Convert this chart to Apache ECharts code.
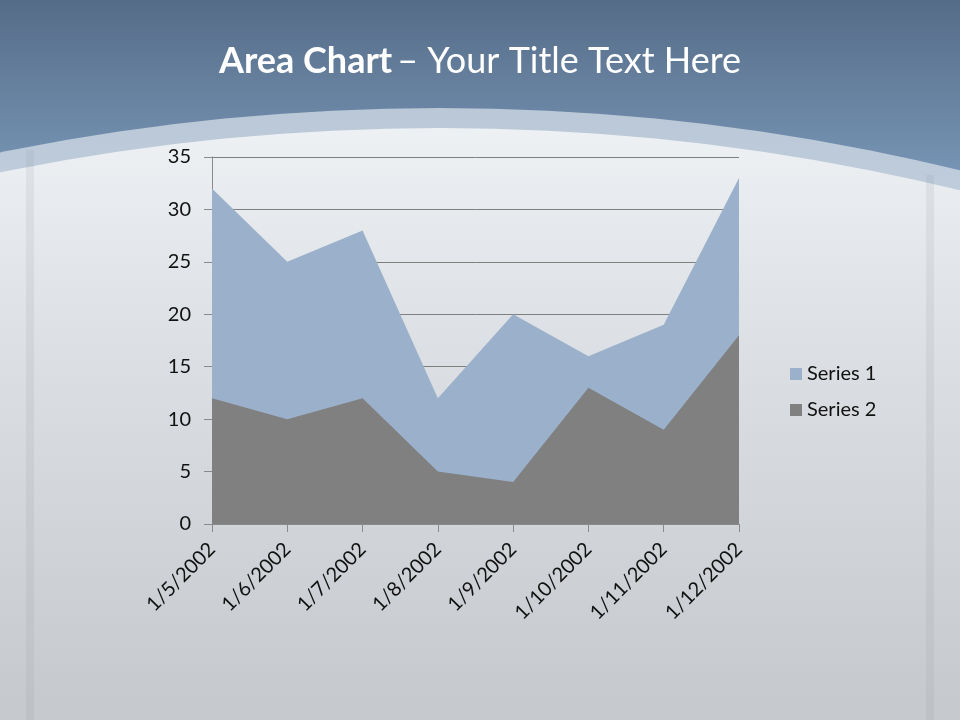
<!DOCTYPE html>
<html>
<head>
<meta charset="utf-8">
<style>
html,body{margin:0;padding:0;background:#c8ccd0;}
#chart{width:960px;height:720px;}
</style>
<script src="https://cdn.jsdelivr.net/npm/echarts@6/dist/echarts.min.js"></script>
</head>
<body>
<div id="chart"></div>
<script>
var categories = ['1/5/2002','1/6/2002','1/7/2002','1/8/2002','1/9/2002','1/10/2002','1/11/2002','1/12/2002'];
var series1 = [32, 25, 28, 12, 20, 16, 19, 33];
var series2 = [12, 10, 12, 5, 4, 13, 9, 18];
var yTicks = {min: 0, max: 35, interval: 5};

var chart = echarts.init(document.getElementById('chart'), null, {renderer: 'canvas'});
var font = 'Lato, "Open Sans", sans-serif';

chart.setOption({
  animation: false,
  graphic: [
    {type: 'rect', z: -10, silent: true, shape: {x: 0, y: 0, width: 960, height: 720},
     style: {fill: new echarts.graphic.LinearGradient(0, 0, 0, 1, [
       {offset: 0, color: '#556c88'}, {offset: 0.25, color: '#7896b6'}, {offset: 1, color: '#7c9ab8'}])}},
    {type: 'circle', z: -9, silent: true, shape: {cx: 440, cy: 2308, r: 2200},
     style: {fill: 'rgba(214,222,232,0.75)'}},
    {type: 'circle', z: -8, silent: true, shape: {cx: 440, cy: 2328, r: 2200},
     style: {fill: new echarts.graphic.LinearGradient(0, 0, 0, 1, [
       {offset: 0, color: '#eef1f4'}, {offset: 0.05, color: '#dcdfe3'}, {offset: 0.13, color: '#c6c9cd'}, {offset: 1, color: '#c0c4c8'}], false)}},
    {type: 'rect', z: -7, silent: true, shape: {x: 26, y: 150, width: 8, height: 570},
     style: {fill: 'rgba(150,155,160,0.15)'}},
    {type: 'rect', z: -7, silent: true, shape: {x: 926, y: 175, width: 8, height: 545},
     style: {fill: 'rgba(150,155,160,0.15)'}}
  ],
  title: {
    text: '{b|Area Chart} {n|– Your Title Text Here}',
    left: 'center',
    top: 38,
    textStyle: {
      rich: {
        b: {fontFamily: font, fontSize: 36, fontWeight: 'bold', color: '#ffffff'},
        n: {fontFamily: font, fontSize: 36, fontWeight: 'normal', color: '#ffffff'}
      }
    }
  },
  legend: {
    orient: 'vertical',
    left: 785,
    top: 359,
    itemWidth: 12,
    itemHeight: 12,
    itemGap: 16,
    icon: 'rect',
    textStyle: {fontFamily: font, fontSize: 20, color: '#111'},
    data: ['Series 1', 'Series 2']
  },
  grid: {left: 212, right: 221, top: 157, bottom: 196, containLabel: false},
  xAxis: {
    type: 'category',
    data: categories,
    boundaryGap: false,
    axisLine: {show: true, lineStyle: {color: '#8a8a8a', width: 1}},
    axisTick: {show: true, length: 8, lineStyle: {color: '#8a8a8a'}},
    axisLabel: {rotate: 45, fontFamily: font, fontSize: 20, color: '#111', margin: 22, interval: 0},
    splitLine: {show: false}
  },
  yAxis: {
    type: 'value',
    min: yTicks.min,
    max: yTicks.max,
    interval: yTicks.interval,
    axisLine: {show: true, lineStyle: {color: '#8a8a8a', width: 1}},
    axisTick: {show: true, length: 8, lineStyle: {color: '#8a8a8a'}},
    axisLabel: {fontFamily: font, fontSize: 20, color: '#111', margin: 21},
    splitLine: {show: true, lineStyle: {color: '#7f7f7f', width: 1}}
  },
  series: [
    {name: 'Series 1', type: 'line', data: series1, showSymbol: false, symbol: 'none',
     lineStyle: {width: 0, color: '#9bb1cb'}, itemStyle: {color: '#9bb1cb'},
     areaStyle: {color: '#9bb1cb', opacity: 1}},
    {name: 'Series 2', type: 'line', data: series2, showSymbol: false, symbol: 'none',
     lineStyle: {width: 0, color: '#808080'}, itemStyle: {color: '#808080'},
     areaStyle: {color: '#808080', opacity: 1}}
  ]
});
</script>
</body>
</html>
